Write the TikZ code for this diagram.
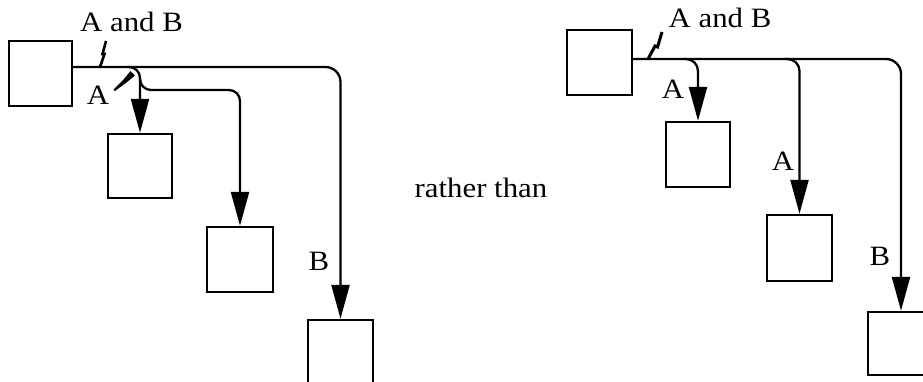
\documentclass[tikz,border=0pt]{standalone}
\usepackage{fontspec}
\setmainfont[FakeStretch=1.1]{Liberation Serif}
\usetikzlibrary{arrows.meta}
\begin{document}
\begin{tikzpicture}[x=1pt,y=-1pt,
  box/.style={draw, line width=2.4pt, inner sep=0pt},
  conn/.style={line width=2.3pt, rounded corners=15pt, -{Triangle[length=34pt,width=18pt]}},
  lbl/.style={font=\fontsize{28}{30}\selectfont, inner sep=0pt, anchor=base},
  bolt/.style={line width=2.6pt, line join=miter}]
\useasboundingbox (0,0) rectangle (923,381);
\clip (0,0) rectangle (923,381);
% left diagram boxes
\node[box, minimum width=63pt, minimum height=65pt] (L1) at (40.5,73.5) {};
\node[box, minimum width=64pt, minimum height=64pt] (L2) at (140,166) {};
\node[box, minimum width=66pt, minimum height=65pt] (L3) at (240,259.5) {};
\node[box, minimum width=65pt, minimum height=64pt] (L4) at (340.5,352) {};
% right diagram boxes
\node[box, minimum width=65pt, minimum height=65pt] (R1) at (599.5,62.5) {};
\node[box, minimum width=64pt, minimum height=65pt] (R2) at (698,154.5) {};
\node[box, minimum width=65pt, minimum height=66pt] (R3) at (799.5,248) {};
\node[box, minimum width=66pt, minimum height=63pt] (R4) at (901,343.5) {};
% junction coordinates
\coordinate (jL1) at (127,67);
\coordinate (jL2) at (140,78);
\coordinate (kL2) at (240,90);
\coordinate (jR1) at (684,59);
\coordinate (jR2) at (785,59);
% left connectors
\draw[conn] ([yshift=6.5pt]L1.east) -| (L4.north);
\draw[conn, rounded corners=11pt] (jL1) -| (L2.north);
\draw[conn, rounded corners=11pt] (jL2) |- (kL2) -- (L3.north);
% right connectors
\draw[conn] ([yshift=3.5pt]R1.east) -| (R4.north);
\draw[conn, rounded corners=12pt] (jR1) -| (R2.north);
\draw[conn, rounded corners=12pt] (jR2) -| (R3.north);
% bolts
\draw[bolt] (100,67) -- (104.5,54) -- (102.5,54) -- (106,41);
\fill (113.5,89.5) -- (124,79) -- (130.5,71) -- (135,75.5) -- (126.5,82.5) -- (115,91) -- cycle;
\draw[bolt, line width=3pt] (648,59) -- (655,46) -- (657.5,47) -- (662,32);
% labels
\node[lbl] (tL) at (131.5,31) {A and B};
\node[lbl] (aL) at (98,104) {A};
\node[lbl] (bL) at (319,270) {B};
\node[lbl] (mid) at (481,197) {rather than};
\node[lbl] (tR) at (720,27) {A and B};
\node[lbl] (aR1) at (673,98) {A};
\node[lbl] (aR2) at (783,170) {A};
\node[lbl] (bR) at (880,265) {B};
\end{tikzpicture}
\end{document}
